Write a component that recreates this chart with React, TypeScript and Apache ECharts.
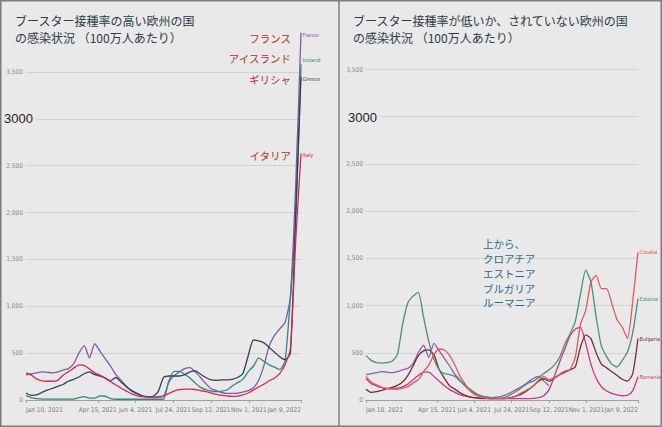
import React, { useEffect, useRef } from "react";
import * as echarts from "echarts";

// 2021年1月10日からの経過日数（週ごと、53点）
const weekDays = Array.from({ length: 53 }, (_, i) => i * 7);

// x軸の目盛り
const xTickDays = [0, 95, 145, 195, 245, 295, 364];
const xTickLabels = ["Jan 10, 2021", "Apr 15, 2021", "Jun 4, 2021", "Jul 24, 2021", "Sep 12, 2021", "Nov 1, 2021", "Jan 9, 2022"];

// 左: ブースター接種率の高い国（100万人あたり感染者数）
const france = [268, 280, 290, 300, 295, 290, 300, 320, 335, 385, 500, 580, 450, 600, 520, 440, 360, 270, 210, 145, 95, 65, 40, 30, 25, 30, 36, 190, 260, 300, 335, 345, 300, 240, 175, 120, 100, 80, 70, 70, 72, 85, 100, 130, 210, 370, 580, 690, 760, 830, 1100, 2300, 3920];
const iceland = [50, 25, 15, 10, 10, 10, 10, 10, 10, 10, 25, 35, 20, 20, 45, 40, 15, 8, 8, 8, 8, 8, 8, 8, 8, 8, 10, 200, 305, 305, 275, 235, 180, 135, 110, 95, 89, 95, 107, 150, 185, 220, 300, 360, 450, 410, 375, 350, 325, 420, 1100, 1900, 3580];
const greece = [75, 50, 55, 80, 105, 125, 145, 165, 200, 220, 245, 280, 300, 270, 255, 235, 205, 240, 190, 140, 100, 70, 45, 36, 40, 90, 240, 256, 256, 256, 270, 300, 310, 275, 240, 215, 210, 215, 215, 220, 240, 280, 470, 640, 630, 610, 560, 510, 460, 430, 500, 2000, 3450];
const italy = [290, 265, 225, 205, 200, 200, 210, 265, 300, 340, 375, 370, 330, 290, 265, 230, 195, 160, 125, 95, 65, 45, 35, 30, 30, 35, 45, 70, 95, 110, 115, 115, 112, 100, 90, 75, 60, 50, 43, 38, 42, 55, 75, 105, 140, 170, 205, 235, 285, 380, 550, 1700, 2630];

// 右: ブースター接種率が低い国
const croatia = [249, 190, 160, 135, 124, 117, 114, 125, 142, 180, 215, 300, 370, 480, 540, 530, 470, 370, 250, 165, 89, 50, 30, 18, 12, 12, 12, 18, 30, 55, 85, 115, 145, 210, 250, 215, 235, 265, 290, 320, 450, 800, 950, 1250, 1320, 1180, 1180, 1020, 850, 770, 650, 1050, 1566];
const estonia = [470, 420, 395, 390, 395, 410, 480, 800, 1030, 1100, 1140, 880, 620, 430, 320, 280, 270, 250, 200, 150, 110, 70, 45, 32, 22, 18, 20, 35, 70, 100, 140, 180, 200, 240, 280, 320, 370, 450, 590, 700, 830, 1120, 1375, 1250, 880, 570, 460, 380, 350, 420, 510, 715, 1074];
const bulgaria = [114, 80, 88, 102, 121, 133, 155, 190, 260, 360, 470, 520, 530, 480, 320, 230, 150, 115, 75, 48, 30, 22, 18, 18, 18, 18, 18, 18, 30, 45, 70, 105, 150, 200, 225, 200, 230, 270, 300, 320, 350, 560, 690, 650, 500, 380, 340, 300, 260, 220, 200, 280, 651];
const romania = [225, 175, 150, 130, 120, 118, 125, 140, 170, 215, 260, 295, 295, 250, 200, 150, 110, 80, 55, 40, 30, 22, 16, 14, 14, 14, 14, 14, 14, 14, 14, 14, 18, 25, 45, 110, 250, 400, 540, 680, 750, 770, 600, 380, 230, 140, 95, 70, 55, 45, 50, 100, 246];
// 右パネルに残っているラベルなしの紫の線（9月12日まで）
const purpleRight = [268, 280, 290, 300, 295, 290, 300, 320, 335, 385, 500, 580, 450, 600, 520, 440, 360, 270, 210, 145, 95, 65, 40, 30, 25, 30, 40, 60, 90, 120, 150, 190, 230, 250, 200, 150];

const BG = "#e9e9e9";
const NARROW = "'Liberation Sans Narrow', 'Arial Narrow', 'DejaVu Sans Condensed', sans-serif";
const JP = "'Noto Sans CJK JP', sans-serif";

const toPairs = (vals: number[]) => vals.map((v, i) => [weekDays[i], v]);

const line = (name: string, vals: number[], color: string, idx: number, label?: string, offset = [0, 0]) => ({
  name,
  type: "line",
  xAxisIndex: idx,
  yAxisIndex: idx,
  data: toPairs(vals),
  showSymbol: false,
  smooth: 0.2,
  clip: false,
  lineStyle: { color, width: 1.3 },
  itemStyle: { color },
  endLabel: label
    ? { show: true, formatter: label, color, fontSize: 5.5, fontFamily: NARROW, distance: 1.5, offset }
    : { show: false },
});

const xAxis = (idx: number) => ({
  gridIndex: idx,
  type: "value",
  min: 0,
  max: 364,
  splitLine: { show: false },
  axisLine: { lineStyle: { color: "#a0a0a0", width: 1 } },
  axisTick: { customValues: xTickDays, length: 3, lineStyle: { color: "#a0a0a0" } },
  axisLabel: {
    customValues: xTickDays,
    formatter: (v: number) => xTickLabels[xTickDays.indexOf(v)] ?? "",
    color: "#7a7a7a",
    fontSize: 6.5,
    fontFamily: NARROW,
    margin: 6,
    alignMinLabel: "left",
    alignMaxLabel: "right",
  },
});

const yAxis = (idx: number) => ({
  gridIndex: idx,
  type: "value",
  min: 0,
  max: 3500,
  interval: 500,
  axisLine: { show: false },
  axisTick: { show: false },
  splitLine: { lineStyle: { color: "#d2d2d2", width: 1 } },
  axisLabel: {
    color: "#8a8a8a",
    fontSize: 6.5,
    fontFamily: NARROW,
    margin: 3,
    formatter: (v: number) => (v === 3000 ? "" : v.toLocaleString("en-US")),
  },
});

const bigTick = (x: number, y: number) => ({
  type: "text",
  z: 100,
  style: {
    x,
    y,
    text: "3000",
    font: "13px 'Liberation Sans', Arial, sans-serif",
    fill: "#222",
    verticalAlign: "middle",
    backgroundColor: BG,
    padding: [1, 3, 1, 0],
  },
});

const redNote = (text: string, y: number) => ({
  type: "text",
  z: 100,
  style: { x: 291, y, text, font: `10.5px ${JP}`, fill: "#b3322b", align: "right", verticalAlign: "middle" },
});

const App: React.FC = () => {
  const chartRef = useRef<HTMLDivElement>(null);

  useEffect(() => {
    const chart = echarts.init(chartRef.current, null, { renderer: "svg" });
    chart.setOption({
      animation: false,
      backgroundColor: BG,
      grid: [
        { left: 26, right: 361, top: 72, bottom: 27 },
        { left: 366, right: 24, top: 69.5, bottom: 27 },
      ],
      xAxis: [xAxis(0), xAxis(1)],
      yAxis: [yAxis(0), yAxis(1)],
      series: [
        line("France", france, "#7f5aa8", 0, "France", [0, 2]),
        line("Iceland", iceland, "#2b8a7b", 0, "Iceland", [0, -5]),
        line("Greece", greece, "#343f58", 0, "Greece", [0, 2]),
        line("Italy", italy, "#d8275e", 0, "Italy", [0, 1]),
        line("Purple", purpleRight, "#8a60b4", 1),
        line("Romania", romania, "#d4318a", 1, "Romania"),
        line("Bulgaria", bulgaria, "#7b2c2c", 1, "Bulgaria"),
        line("Estonia", estonia, "#4f8f72", 1, "Estonia"),
        line("Croatia", croatia, "#e05a5e", 1, "Croatia"),
      ],
      graphic: [
        {
          type: "rect",
          z: 100,
          shape: { x: 0.75, y: 0.75, width: 660.5, height: 425.5 },
          style: { fill: "none", stroke: "#7d7d7d", lineWidth: 1.5 },
        },
        {
          type: "line",
          z: 100,
          shape: { x1: 339, y1: 0, x2: 339, y2: 427 },
          style: { stroke: "#7d7d7d", lineWidth: 1.5 },
        },
        {
          type: "text",
          z: 100,
          style: {
            x: 15,
            y: 11.5,
            text: "ブースター接種率の高い欧州の国\nの感染状況 （100万人あたり）",
            font: `12px ${JP}`,
            fill: "#2c3b46",
            lineHeight: 17,
            verticalAlign: "top",
          },
        },
        {
          type: "text",
          z: 100,
          style: {
            x: 353,
            y: 11.5,
            text: "ブースター接種率が低いか、されていない欧州の国\nの感染状況 （100万人あたり）",
            font: `12px ${JP}`,
            fill: "#2c3b46",
            lineHeight: 17,
            verticalAlign: "top",
          },
        },
        bigTick(4, 118),
        bigTick(348, 117),
        redNote("フランス", 38),
        redNote("アイスランド", 58),
        redNote("ギリシャ", 79),
        redNote("イタリア", 155),
        {
          type: "text",
          z: 100,
          style: {
            x: 483,
            y: 236.5,
            text: "上から、\nクロアチア\nエストニア\nブルガリア\nルーマニア",
            font: `10.5px ${JP}`,
            fill: "#236d8c",
            lineHeight: 14.75,
            verticalAlign: "top",
          },
        },
      ],
    });
    return () => {
      chart.dispose();
    };
  }, []);

  return <div ref={chartRef} style={{ position: "absolute", left: 0, top: 0, width: 662, height: 427 }} />;
};

export default App;
